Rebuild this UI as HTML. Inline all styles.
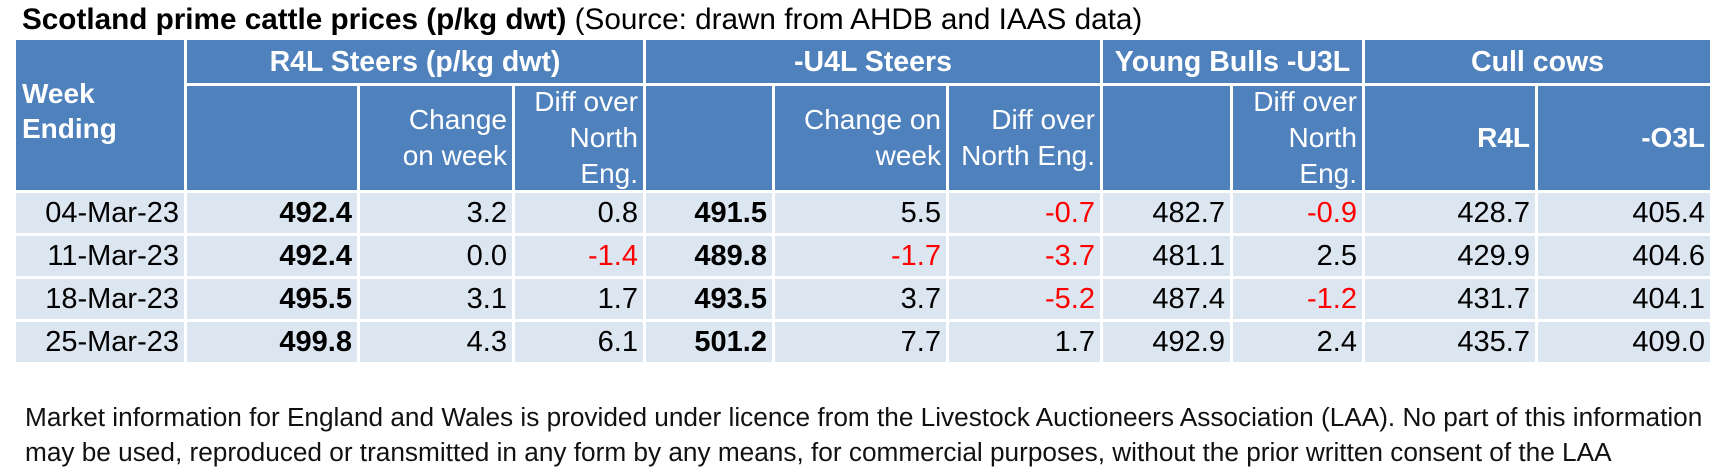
<!DOCTYPE html>
<html><head><meta charset="utf-8">
<style>
*{margin:0;padding:0;box-sizing:border-box}
body{width:1728px;height:472px;background:#fff;position:relative;overflow:hidden;font-family:"Liberation Sans",Arial,sans-serif;color:#000}
.c{position:absolute;display:flex;align-items:center;justify-content:flex-end;padding-right:5px;text-align:right;white-space:nowrap}
.h{background:#4F81BD;color:#fff;font-size:28px;line-height:36px}
.b{font-weight:bold}
.d{background:#DCE6F1;font-size:29px}
.r{color:#f00}
.t{position:absolute;white-space:nowrap}
</style></head><body>
<div class="t" style="left:22px;top:3px;font-size:29.7px;line-height:34px"><b>Scotland prime cattle prices (p/kg dwt)</b> (Source: drawn from AHDB and IAAS data)</div>

<div class="c h b" style="left:16px;top:40px;width:168px;height:150px;justify-content:flex-start;padding-left:6px;padding-bottom:8px;text-align:left;font-size:28px;line-height:35px">Week<br>Ending</div>
<div class="c h b" style="left:187px;top:40px;width:456px;height:43px;justify-content:center;padding:0;font-size:28.5px">R4L Steers (p/kg dwt)</div>
<div class="c h b" style="left:646px;top:40px;width:454px;height:43px;justify-content:center;padding:0;font-size:28.5px">-U4L Steers</div>
<div class="c h b" style="left:1103px;top:40px;width:259px;height:43px;justify-content:center;padding:0;font-size:28.5px">Young Bulls -U3L</div>
<div class="c h b" style="left:1365px;top:40px;width:345px;height:43px;justify-content:center;padding:0;font-size:28.5px">Cull cows</div>

<div class="c h" style="left:187px;top:86px;width:170px;height:104px"></div>
<div class="c h" style="left:360px;top:86px;width:152px;height:104px">Change<br>on week</div>
<div class="c h" style="left:515px;top:86px;width:128px;height:104px">Diff over<br>North<br>Eng.</div>
<div class="c h" style="left:646px;top:86px;width:126px;height:104px"></div>
<div class="c h" style="left:775px;top:86px;width:171px;height:104px">Change on<br>week</div>
<div class="c h" style="left:949px;top:86px;width:151px;height:104px">Diff over<br>North Eng.</div>
<div class="c h" style="left:1103px;top:86px;width:127px;height:104px"></div>
<div class="c h" style="left:1233px;top:86px;width:129px;height:104px">Diff over<br>North<br>Eng.</div>
<div class="c h b" style="left:1365px;top:86px;width:170px;height:104px">R4L</div>
<div class="c h b" style="left:1538px;top:86px;width:172px;height:104px">-O3L</div>

<div id="rows"></div>
<script>
var cols=[[16,168],[187,170],[360,152],[515,128],[646,126],[775,171],[949,151],[1103,127],[1233,129],[1365,170],[1538,172]];
var tops=[193,236,279,322],h=40;
var data=[
["04-Mar-23","492.4","3.2","0.8","491.5","5.5","-0.7","482.7","-0.9","428.7","405.4"],
["11-Mar-23","492.4","0.0","-1.4","489.8","-1.7","-3.7","481.1","2.5","429.9","404.6"],
["18-Mar-23","495.5","3.1","1.7","493.5","3.7","-5.2","487.4","-1.2","431.7","404.1"],
["25-Mar-23","499.8","4.3","6.1","501.2","7.7","1.7","492.9","2.4","435.7","409.0"]];
var s="";
for(var r=0;r<4;r++)for(var c=0;c<11;c++){
 var v=data[r][c],cls="c d";
 if(c==1||c==4)cls+=" b";
 if(v.charAt(0)=="-"&&c>0)cls+=" r";
 s+='<div class="'+cls+'" style="left:'+cols[c][0]+'px;top:'+tops[r]+'px;width:'+cols[c][1]+'px;height:'+h+'px">'+v+'</div>';
}
document.getElementById("rows").outerHTML=s;
</script>

<div class="t" style="left:25px;top:400px;font-size:26.2px;line-height:35px;color:#111">Market information for England and Wales is provided under licence from the Livestock Auctioneers Association (LAA). No part of this information<br>may be used, reproduced or transmitted in any form by any means, for commercial purposes, without the prior written consent of the LAA</div>
</body></html>
